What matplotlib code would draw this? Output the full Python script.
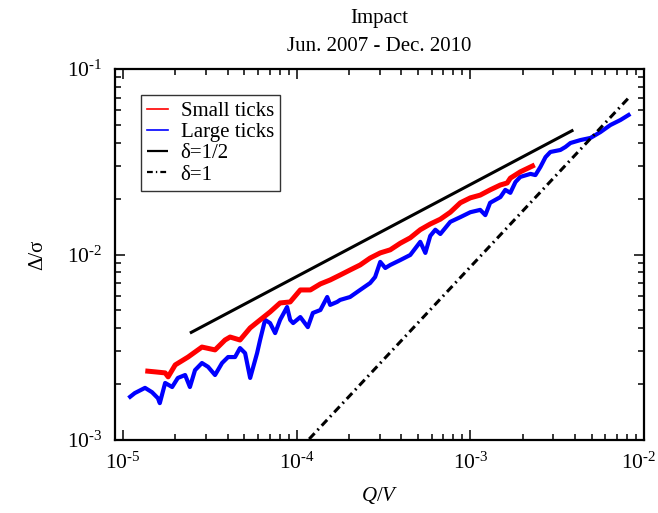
import matplotlib
matplotlib.use("Agg")
import matplotlib.pyplot as plt
import matplotlib.transforms as mtransforms
from matplotlib.ticker import LogLocator, FixedLocator, NullFormatter

plt.rcParams['font.family'] = ['Liberation Serif', 'DejaVu Serif']
plt.rcParams['mathtext.fontset'] = 'custom'
plt.rcParams['mathtext.rm'] = 'Liberation Serif'
plt.rcParams['mathtext.it'] = 'Liberation Serif:italic'

# ---- data ----
small_x = [1.39e-5, 1.53e-5, 1.75e-5, 1.82e-5, 2.00e-5, 2.37e-5, 2.85e-5, 3.39e-5,
           3.87e-5, 4.14e-5, 4.72e-5, 5.40e-5, 6.16e-5, 7.03e-5, 8.03e-5, 9.18e-5,
           1.05e-4, 1.20e-4, 1.37e-4, 1.56e-4, 1.78e-4, 2.03e-4, 2.32e-4, 2.65e-4,
           3.03e-4, 3.46e-4, 3.95e-4, 4.51e-4, 5.15e-4, 5.88e-4, 6.72e-4, 7.67e-4,
           8.76e-4, 1.00e-3, 1.14e-3, 1.30e-3, 1.49e-3, 1.63e-3, 1.70e-3, 1.94e-3,
           2.28e-3]
small_y = [2.35e-3, 2.33e-3, 2.30e-3, 2.19e-3, 2.54e-3, 2.80e-3, 3.17e-3, 3.06e-3,
           3.46e-3, 3.59e-3, 3.46e-3, 4.02e-3, 4.44e-3, 4.90e-3, 5.48e-3, 5.55e-3,
           6.44e-3, 6.44e-3, 6.94e-3, 7.29e-3, 7.75e-3, 8.25e-3, 8.78e-3, 9.57e-3,
           1.02e-2, 1.06e-2, 1.15e-2, 1.23e-2, 1.36e-2, 1.46e-2, 1.55e-2, 1.69e-2,
           1.90e-2, 2.02e-2, 2.09e-2, 2.23e-2, 2.37e-2, 2.43e-2, 2.58e-2, 2.79e-2,
           3.00e-2]

large_x = [1.10e-5, 1.17e-5, 1.34e-5, 1.47e-5, 1.59e-5, 1.63e-5, 1.75e-5, 1.92e-5,
           2.07e-5, 2.28e-5, 2.43e-5, 2.60e-5, 2.85e-5, 3.09e-5, 3.39e-5, 3.72e-5,
           4.03e-5, 4.42e-5, 4.72e-5, 5.05e-5, 5.40e-5, 5.92e-5, 6.16e-5, 6.58e-5,
           7.03e-5, 7.52e-5, 8.03e-5, 8.81e-5, 9.18e-5, 9.55e-5, 1.05e-4, 1.16e-4,
           1.24e-4, 1.37e-4, 1.50e-4, 1.56e-4, 1.71e-4, 1.78e-4, 2.03e-4, 2.32e-4,
           2.65e-4, 2.83e-4, 3.03e-4, 3.24e-4, 3.46e-4, 3.95e-4, 4.51e-4, 5.15e-4,
           5.51e-4, 5.88e-4, 6.29e-4, 6.72e-4, 7.67e-4, 8.76e-4, 1.00e-3, 1.14e-3,
           1.22e-3, 1.30e-3, 1.49e-3, 1.59e-3, 1.70e-3, 1.82e-3, 1.94e-3, 2.22e-3,
           2.37e-3, 2.53e-3, 2.71e-3, 2.89e-3, 3.30e-3, 3.53e-3, 3.77e-3, 4.31e-3,
           4.92e-3, 5.61e-3, 6.41e-3, 7.32e-3, 8.15e-3]
large_y = [1.71e-3, 1.79e-3, 1.91e-3, 1.81e-3, 1.68e-3, 1.58e-3, 2.03e-3, 1.93e-3,
           2.16e-3, 2.24e-3, 1.93e-3, 2.38e-3, 2.60e-3, 2.48e-3, 2.24e-3, 2.60e-3,
           2.80e-3, 2.80e-3, 3.13e-3, 2.94e-3, 2.16e-3, 2.94e-3, 3.46e-3, 4.44e-3,
           4.27e-3, 3.77e-3, 4.44e-3, 5.21e-3, 4.44e-3, 4.27e-3, 4.60e-3, 4.06e-3,
           4.84e-3, 5.02e-3, 5.90e-3, 5.35e-3, 5.55e-3, 5.69e-3, 5.90e-3, 6.44e-3,
           7.02e-3, 7.56e-3, 9.12e-3, 8.46e-3, 8.78e-3, 9.33e-3, 9.94e-3, 1.17e-2,
           1.02e-2, 1.26e-2, 1.36e-2, 1.29e-2, 1.50e-2, 1.59e-2, 1.69e-2, 1.74e-2,
           1.63e-2, 1.90e-2, 2.04e-2, 2.23e-2, 2.15e-2, 2.46e-2, 2.62e-2, 2.72e-2,
           2.68e-2, 2.96e-2, 3.35e-2, 3.57e-2, 3.66e-2, 3.80e-2, 3.99e-2, 4.14e-2,
           4.25e-2, 4.57e-2, 4.99e-2, 5.31e-2, 5.65e-2]

half_x = [2.43e-5, 3.92e-3]
half_y = [3.77e-3, 4.69e-2]
one_x = [1.0e-4, 8.3e-3]
one_y = [8.57e-4, 7.11e-2]

xticks = [1e-5, 1e-4, 1e-3, 1e-2]
xticklabels = ['$10^{\\text{-}5}$', '$10^{\\text{-}4}$', '$10^{\\text{-}3}$', '$10^{\\text{-}2}$']
yticks = [1e-3, 1e-2, 1e-1]
yticklabels = ['$10^{\\text{-}3}$', '$10^{\\text{-}2}$', '$10^{\\text{-}1}$']

fig = plt.figure(figsize=(6.58, 5.13), dpi=100)
ax = fig.add_axes([115/658, 1-440/513, (644-115)/658, (440-69)/513])

ax.plot(small_x, small_y, color='#ff0000', lw=3.6, label='Small ticks', zorder=3)
ax.plot(large_x, large_y, color='#0000ff', lw=3.0, label='Large ticks', zorder=2)
ax.plot(half_x, half_y, color='black', lw=2.2, label='δ=1/2', solid_capstyle='butt')
ax.plot(one_x, one_y, color='black', lw=2.2, dashes=(2.6, 1.4, 0.6, 1.4), label='δ=1')

ax.set_xscale('log')
ax.set_yscale('log')
ax.set_xlim(9.0e-6, 1e-2)
ax.set_ylim(1e-3, 1e-1)

ax.xaxis.set_major_locator(FixedLocator(xticks))
ax.set_xticklabels(xticklabels)
ax.yaxis.set_major_locator(FixedLocator(yticks))
ax.set_yticklabels(yticklabels)
ax.xaxis.set_minor_locator(LogLocator(base=10, subs=range(2, 10)))
ax.yaxis.set_minor_locator(LogLocator(base=10, subs=range(2, 10)))
ax.xaxis.set_minor_formatter(NullFormatter())
ax.yaxis.set_minor_formatter(NullFormatter())

ax.tick_params(which='both', direction='in', top=True, right=True, width=1.1)
ax.tick_params(which='major', length=7.5, labelsize=15.5, pad=9)
ax.tick_params(which='minor', length=4.5)
for s in ax.spines.values():
    s.set_linewidth(1.6)

# keep the last x tick label inside the canvas
last = ax.get_xticklabels()[-1]
last.set_transform(last.get_transform() + mtransforms.ScaledTranslation(-5/100, 0, fig.dpi_scale_trans))

ax.set_xlabel('$\\it{Q/V}$', fontsize=15, labelpad=8)
ax.set_ylabel('Δ/σ', fontsize=15, labelpad=14)

fig.text(379.5/658, 1-19/513, 'Impact', ha='center', va='center', fontsize=15)
fig.text(379.5/658, 1-47/513, 'Jun. 2007 - Dec. 2010', ha='center', va='center', fontsize=15)

leg = ax.legend(loc='upper left', bbox_to_anchor=(0.049, 0.930), borderaxespad=0,
                fontsize=15, frameon=True, fancybox=False, handlelength=1.0,
                handletextpad=0.6, labelspacing=0.08, borderpad=0.3)
leg.get_frame().set_edgecolor('black')
leg.get_frame().set_linewidth(1.0)
for h in leg.get_lines()[:2]:
    h.set_linewidth(1.2)
for h in leg.get_lines()[2:]:
    h.set_linewidth(1.6)

fig.savefig('out.png', dpi=100)
